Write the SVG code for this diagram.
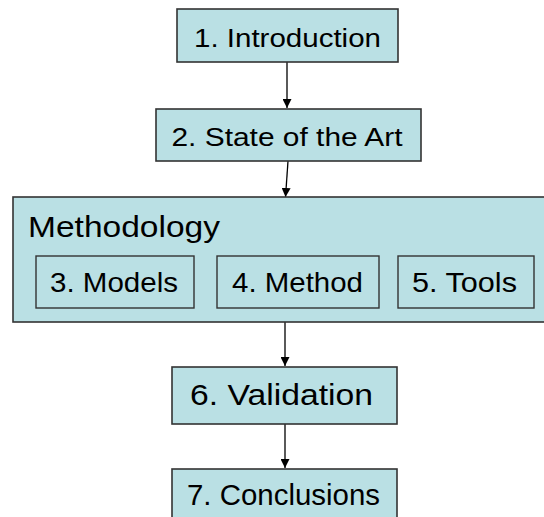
<svg xmlns="http://www.w3.org/2000/svg" width="544" height="517" viewBox="0 0 544 517">
  <defs>
    <style>
      .box { fill: #BAE0E4; stroke: #333333; stroke-width: 1.6; }
      .inner { fill: #BAE0E4; stroke: #333333; stroke-width: 1.4; }
      .lbl { font-family: "Liberation Sans", Arial, sans-serif; font-size: 28px; fill: #000000; }
      .edge { stroke: #000000; stroke-width: 1.3; fill: none; marker-end: url(#arrow); }
    </style>
    <marker id="arrow" viewBox="0 0 10 10" refX="10" refY="5" markerWidth="9" markerHeight="9" markerUnits="userSpaceOnUse" orient="auto">
      <path d="M0,0 L10,5 L0,10 z" fill="#000000"/>
    </marker>
  </defs>
  <rect width="544" height="517" fill="#FFFFFF"/>

  <g id="connectors">
    <line class="edge" x1="287" y1="62" x2="287" y2="108"/>
    <line class="edge" x1="288" y1="161" x2="285.5" y2="197"/>
    <line class="edge" x1="285" y1="322" x2="285" y2="366"/>
    <line class="edge" x1="285" y1="424" x2="285" y2="468"/>
  </g>

  <g id="introduction">
    <rect class="box" x="177" y="9" width="221" height="53"/>
    <text class="lbl" x="287.5" y="47" text-anchor="middle" style="font-size:26px" textLength="187" lengthAdjust="spacingAndGlyphs">1. Introduction</text>
  </g>

  <g id="state-of-the-art">
    <rect class="box" x="156" y="109" width="265" height="52"/>
    <text class="lbl" x="287" y="146" text-anchor="middle" style="font-size:26.5px" textLength="231" lengthAdjust="spacingAndGlyphs">2. State of the Art</text>
  </g>

  <g id="methodology">
    <rect class="box" x="13" y="197" width="540" height="125"/>
    <text class="lbl" x="28" y="237" style="font-size:30px" textLength="192" lengthAdjust="spacingAndGlyphs">Methodology</text>
    <g id="models">
      <rect class="inner" x="36" y="256" width="158" height="52"/>
      <text class="lbl" x="114" y="292" text-anchor="middle" textLength="128" lengthAdjust="spacingAndGlyphs">3. Models</text>
    </g>
    <g id="method">
      <rect class="inner" x="217" y="256" width="162" height="52"/>
      <text class="lbl" x="297.5" y="292" text-anchor="middle" textLength="131" lengthAdjust="spacingAndGlyphs">4. Method</text>
    </g>
    <g id="tools">
      <rect class="inner" x="398" y="256" width="136" height="52"/>
      <text class="lbl" x="464.5" y="292" text-anchor="middle" textLength="105" lengthAdjust="spacingAndGlyphs">5. Tools</text>
    </g>
  </g>

  <g id="validation">
    <rect class="box" x="172" y="367" width="225" height="57"/>
    <text class="lbl" x="281.5" y="405" text-anchor="middle" style="font-size:30px" textLength="183" lengthAdjust="spacingAndGlyphs">6. Validation</text>
  </g>

  <g id="conclusions">
    <rect class="box" x="172" y="469" width="225" height="60"/>
    <text class="lbl" x="283.5" y="505" text-anchor="middle" style="font-size:30px" textLength="193" lengthAdjust="spacingAndGlyphs">7. Conclusions</text>
  </g>
</svg>
